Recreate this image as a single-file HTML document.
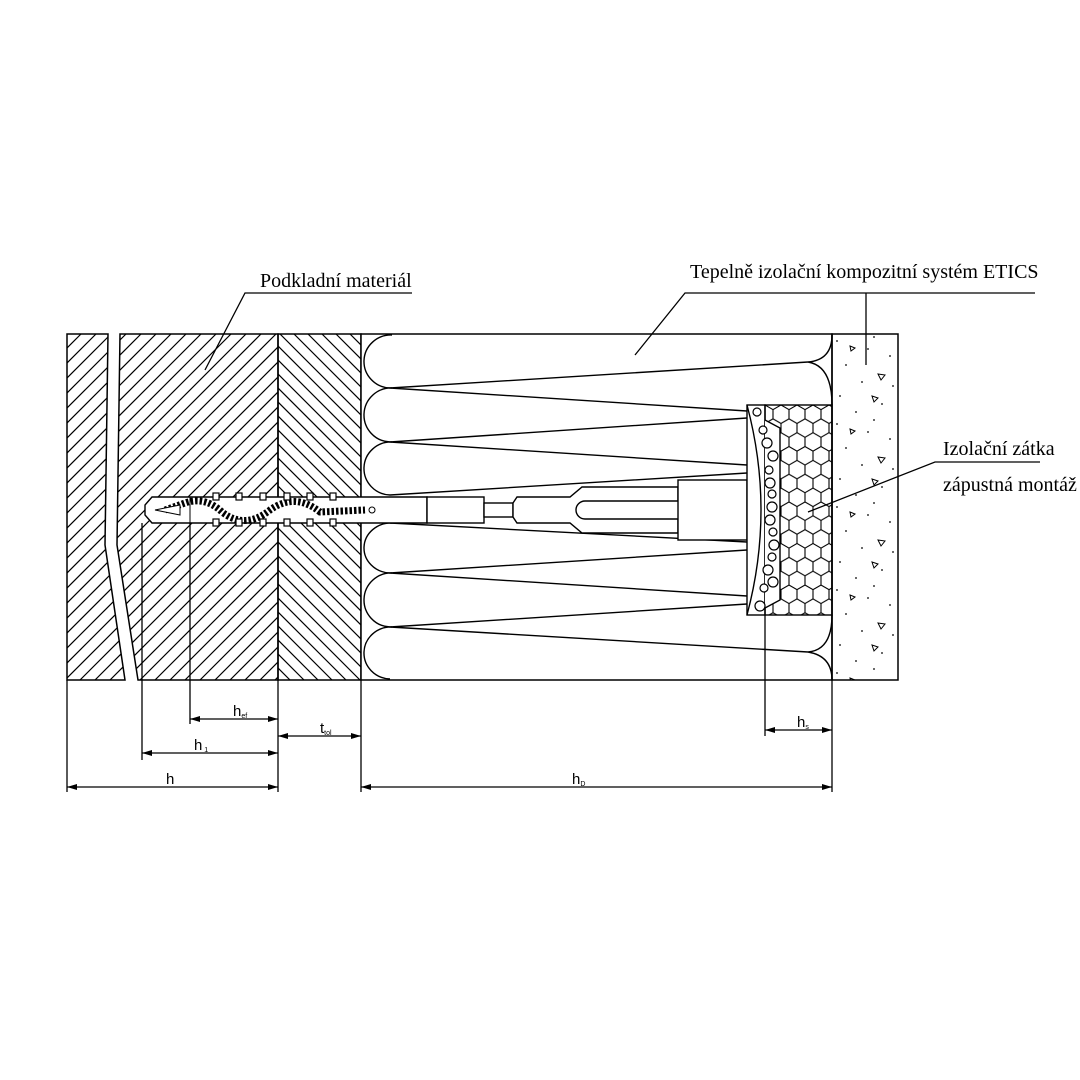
<!DOCTYPE html>
<html><head><meta charset="utf-8"><style>
html,body{margin:0;padding:0;background:#fff;}
svg{display:block}
text{font-family:"Liberation Serif",serif;fill:#000}
.s{font-family:"Liberation Sans",sans-serif}
</style></head><body>
<svg width="1080" height="1080" viewBox="0 0 1080 1080" xmlns="http://www.w3.org/2000/svg">
<defs>
<pattern id="hex" patternUnits="userSpaceOnUse" width="16" height="27.7" x="765" y="405">
<path d="M0,0 l8,4.6 v9.2 l-8,4.6 l-8,-4.6 v-9.2 z M16,0 l8,4.6 v9.2 l-8,4.6 l-8,-4.6 v-9.2z M8,13.85 l8,4.6 v9.2 l-8,4.6 l-8,-4.6 v-9.2z" fill="none" stroke="#000" stroke-width="1.1"/></pattern>
<pattern id="dots" patternUnits="userSpaceOnUse" width="66" height="83" x="832" y="334">
<circle cx="5" cy="7" r="0.9"/><circle cx="42" cy="3" r="0.9"/><circle cx="58" cy="22" r="0.9"/><circle cx="14" cy="31" r="0.9"/><circle cx="30" cy="48" r="0.9"/><circle cx="8" cy="62" r="0.9"/><circle cx="50" cy="70" r="0.9"/><circle cx="24" cy="78" r="0.9"/><circle cx="36" cy="15" r="0.9"/><circle cx="61" cy="52" r="0.9"/>
<path d="M46,40 l7,1 l-4,5z M18,12 l5,2 l-4,3z M40,62 l6,2 l-4,4z" fill="none" stroke="#000" stroke-width="1"/></pattern>
<clipPath id="c1"><path d="M67,334 H108 L105,545 L125,680 H67 Z M120,334 H278 V680 H138 L117,545 Z"/></clipPath>
<clipPath id="c2"><rect x="278" y="334" width="83" height="346"/></clipPath>
</defs>

<!-- hatching "/" -->
<g clip-path="url(#c1)" stroke="#000" stroke-width="1.2" id="hatch1"></g>
<g clip-path="url(#c1)" stroke="#000" stroke-width="1.2">
<path d="M-280,680 L66,334 M-265,680 L81,334 M-250,680 L96,334 M-235,680 L111,334 M-220,680 L126,334 M-205,680 L141,334 M-190,680 L156,334 M-175,680 L171,334 M-160,680 L186,334 M-145,680 L201,334 M-130,680 L216,334 M-115,680 L231,334 M-100,680 L246,334 M-85,680 L261,334 M-70,680 L276,334 M-55,680 L291,334 M-40,680 L306,334 M-25,680 L321,334 M-10,680 L336,334 M5,680 L351,334 M20,680 L366,334 M35,680 L381,334 M50,680 L396,334 M65,680 L411,334 M80,680 L426,334 M95,680 L441,334 M110,680 L456,334 M125,680 L471,334 M140,680 L486,334 M155,680 L501,334 M170,680 L516,334 M185,680 L531,334 M200,680 L546,334 M215,680 L561,334 M230,680 L576,334 M245,680 L591,334 M260,680 L606,334 M275,680 L621,334"/>
</g>
<g clip-path="url(#c2)" stroke="#000" stroke-width="1.2">
<path d="M-70,334 L276,680 M-56,334 L290,680 M-42,334 L304,680 M-28,334 L318,680 M-14,334 L332,680 M0,334 L346,680 M14,334 L360,680 M28,334 L374,680 M42,334 L388,680 M56,334 L402,680 M70,334 L416,680 M84,334 L430,680 M98,334 L444,680 M112,334 L458,680 M126,334 L472,680 M140,334 L486,680 M154,334 L500,680 M168,334 L514,680 M182,334 L528,680 M196,334 L542,680 M210,334 L556,680 M224,334 L570,680 M238,334 L584,680 M252,334 L598,680 M266,334 L612,680 M280,334 L626,680 M294,334 L640,680 M308,334 L654,680 M322,334 L668,680 M336,334 L682,680 M350,334 L696,680"/>
</g>
<path d="M67,334 H108 L105,545 L125,680 H67 Z" fill="none" stroke="#000" stroke-width="1.5"/>
<path d="M120,334 H278 V680 H138 L117,545 Z" fill="none" stroke="#000" stroke-width="1.5"/>
<rect x="278" y="334" width="83" height="346" fill="none" stroke="#000" stroke-width="1.5"/>

<!-- insulation -->
<rect x="361" y="334" width="471" height="346" fill="#fff" stroke="#000" stroke-width="1.5"/>
<g fill="none" stroke="#000" stroke-width="1.4">
<path d="M392,335 A27,26.5 0 0 0 390,388"/>
<path d="M392,388 A27,27 0 0 0 390,442"/>
<path d="M392,442 A27,26.5 0 0 0 390,495"/>
<path d="M392,523 A27,25 0 0 0 390,573"/>
<path d="M392,573 A27,27 0 0 0 390,627"/>
<path d="M392,627 A27,26 0 0 0 390,679"/>
<path d="M390,388 L808,362 M390,388 L747,411 M390,442 L747,418 M390,442 L747,465 M390,495 L747,473 M390,523 L747,542 M390,573 L747,550 M390,573 L747,596 M390,627 L747,604 M390,627 L808,652"/>
<path d="M808,362 Q832,360 832,335 M808,362 Q832,366 832,405"/>
<path d="M808,652 Q832,650 832,615 M808,652 Q832,656 832,680"/>
</g>

<!-- render -->
<rect x="832" y="334" width="66" height="346" fill="url(#dots)" stroke="#000" stroke-width="1.5"/>

<!-- anchor -->
<g stroke="#000" stroke-width="1.4" fill="#fff">
<path d="M152,497 H427 V523 H152 L145,515 V505 Z"/>
<rect x="427" y="497" width="57" height="26"/>
<rect x="484" y="503" width="29" height="14"/>
<path d="M513,503 L517,497 H570 L582,487 H678 V533 H582 L570,523 H517 L513,517 Z"/>
<rect x="576" y="501" width="164" height="18" rx="9"/>
<rect x="678" y="480" width="69" height="60"/>
<rect x="747" y="405" width="18" height="210"/>
<path d="M747,405 Q775,510 747,615" fill="none"/>
<rect x="765" y="405" width="67" height="210" fill="url(#hex)"/>
<path d="M765,420 L780,428 V600 L765,608" fill="#fff"/>
</g>
<g fill="#fff" stroke="#000" stroke-width="1.2">
<circle cx="757" cy="412" r="4"/><circle cx="763" cy="430" r="4"/><circle cx="767" cy="443" r="5"/><circle cx="773" cy="456" r="5"/><circle cx="769" cy="470" r="4"/><circle cx="770" cy="483" r="5"/><circle cx="772" cy="494" r="4"/><circle cx="772" cy="507" r="5"/><circle cx="770" cy="520" r="5"/><circle cx="773" cy="532" r="4"/><circle cx="774" cy="545" r="5"/><circle cx="772" cy="557" r="4"/><circle cx="768" cy="570" r="5"/><circle cx="773" cy="582" r="5"/><circle cx="764" cy="588" r="4"/><circle cx="760" cy="606" r="5"/>
</g>
<!-- screw inside -->
<path d="M165,510 L185,503 Q205,496 222,512 Q245,530 270,510 Q295,492 320,512 L365,510" fill="none" stroke="#000" stroke-width="7" stroke-dasharray="2.5 2"/>
<path d="M155,510 L180,505 V515 Z" fill="#fff" stroke="#000"/>
<circle cx="372" cy="510" r="3" fill="#fff" stroke="#000"/>
<line x1="190" y1="497" x2="190" y2="523" stroke="#000"/>
<g fill="#fff" stroke="#000" stroke-width="1.2">
<rect x="213" y="493" width="6" height="7"/><rect x="236" y="493" width="6" height="7"/><rect x="260" y="493" width="6" height="7"/><rect x="284" y="493" width="6" height="7"/><rect x="307" y="493" width="6" height="7"/><rect x="330" y="493" width="6" height="7"/>
<rect x="213" y="519" width="6" height="7"/><rect x="236" y="519" width="6" height="7"/><rect x="260" y="519" width="6" height="7"/><rect x="284" y="519" width="6" height="7"/><rect x="307" y="519" width="6" height="7"/><rect x="330" y="519" width="6" height="7"/>
</g>

<!-- dimensions -->
<g stroke="#000" stroke-width="1.3">
<line x1="67" y1="680" x2="67" y2="792"/>
<line x1="142" y1="523" x2="142" y2="760"/>
<line x1="190" y1="523" x2="190" y2="724"/>
<line x1="278" y1="680" x2="278" y2="792"/>
<line x1="361" y1="680" x2="361" y2="792"/>
<line x1="765" y1="615" x2="765" y2="736"/>
<line x1="832" y1="680" x2="832" y2="792"/>
<line x1="190" y1="719" x2="278" y2="719"/>
<line x1="278" y1="736" x2="361" y2="736"/>
<line x1="765" y1="730" x2="832" y2="730"/>
<line x1="142" y1="753" x2="278" y2="753"/>
<line x1="67" y1="787" x2="278" y2="787"/>
<line x1="361" y1="787" x2="832" y2="787"/>
</g>
<g fill="#000">
<path d="M190,719 l10,-3 v6z M278,719 l-10,-3 v6z"/>
<path d="M278,736 l10,-3 v6z M361,736 l-10,-3 v6z"/>
<path d="M765,730 l10,-3 v6z M832,730 l-10,-3 v6z"/>
<path d="M142,753 l10,-3 v6z M278,753 l-10,-3 v6z"/>
<path d="M67,787 l10,-3 v6z M278,787 l-10,-3 v6z"/>
<path d="M361,787 l10,-3 v6z M832,787 l-10,-3 v6z"/>
</g>
<text class="s" x="233" y="716" font-size="15">h<tspan font-size="7" dy="2">ef</tspan></text>
<text class="s" x="320" y="733" font-size="15">t<tspan font-size="7" dy="2">tol</tspan></text>
<text class="s" x="194" y="750" font-size="15">h<tspan font-size="7" dy="2"> 1</tspan></text>
<text class="s" x="166" y="784" font-size="15">h</text>
<text class="s" x="797" y="727" font-size="15">h<tspan font-size="7" dy="2">s</tspan></text>
<text class="s" x="572" y="784" font-size="15">h<tspan font-size="7" dy="2">D</tspan></text>

<!-- labels -->
<g stroke="#000" stroke-width="1.3" fill="none">
<path d="M412,293 H245 L205,370"/>
<path d="M1035,293 H685 L635,355"/>
<path d="M866,293 V365"/>
<path d="M1040,462 H935 L808,512"/>
</g>
<text x="260" y="287" font-size="20">Podkladní materiál</text>
<text x="690" y="278" font-size="20">Tepelně izolační kompozitní systém ETICS</text>
<text x="943" y="455" font-size="20">Izolační zátka</text>
<text x="943" y="491" font-size="20">zápustná montáž</text>
</svg>
</body></html>
